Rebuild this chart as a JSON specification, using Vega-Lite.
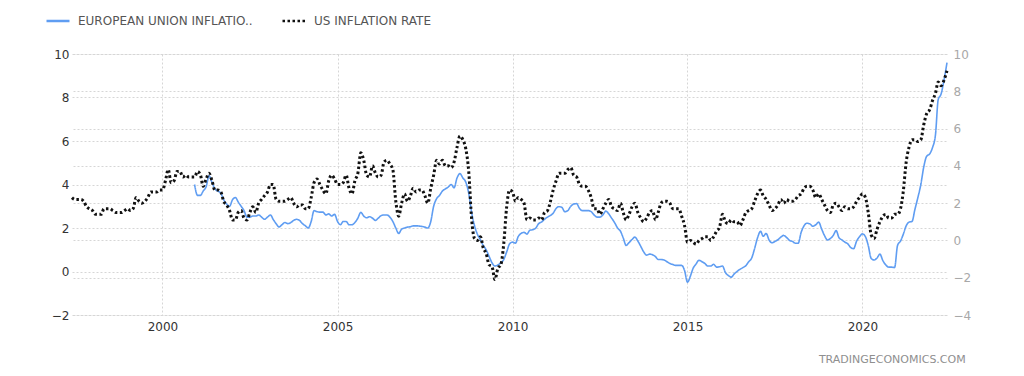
{
"$schema":"https://vega.github.io/schema/vega-lite/v6.json",
"width":875,"height":261,
"autosize":{"type":"none"},
"padding":{"left":72,"top":54,"right":77,"bottom":61},
"background":"white",
"config":{"view":{"stroke":null},"font":"DejaVu Sans"},
"title":{"text":"TRADINGECONOMICS.COM","orient":"bottom","anchor":"end","fontSize":11,"fontWeight":"normal","color":"#8f8f8f","offset":22,"dx":-5,"font":"DejaVu Sans"},
"data":{"values":[
{"d":"1997-06","us":2.3},{"d":"1997-07","us":2.2},{"d":"1997-08","us":2.2},{"d":"1997-09","us":2.2},{"d":"1997-10","us":2.1},{"d":"1997-11","us":1.8},{"d":"1997-12","us":1.7},
{"d":"1998-01","us":1.6},{"d":"1998-02","us":1.4},{"d":"1998-03","us":1.4},{"d":"1998-04","us":1.4},{"d":"1998-05","us":1.7},{"d":"1998-06","us":1.7},{"d":"1998-07","us":1.7},{"d":"1998-08","us":1.6},{"d":"1998-09","us":1.5},{"d":"1998-10","us":1.5},{"d":"1998-11","us":1.5},{"d":"1998-12","us":1.6},
{"d":"1999-01","us":1.7},{"d":"1999-02","us":1.6},{"d":"1999-03","us":1.7},{"d":"1999-04","us":2.3},{"d":"1999-05","us":2.1},{"d":"1999-06","us":2.0},{"d":"1999-07","us":2.1},{"d":"1999-08","us":2.3},{"d":"1999-09","us":2.6},{"d":"1999-10","us":2.6},{"d":"1999-11","us":2.6},{"d":"1999-12","us":2.7},
{"d":"2000-01","us":2.7},{"d":"2000-02","us":3.2},{"d":"2000-03","us":3.8},{"d":"2000-04","us":3.1},{"d":"2000-05","us":3.2},{"d":"2000-06","us":3.7},{"d":"2000-07","us":3.7},{"d":"2000-08","us":3.4},{"d":"2000-09","us":3.5},{"d":"2000-10","us":3.4},{"d":"2000-11","us":3.4},{"d":"2000-12","us":3.4,"eu":4.0},
{"d":"2001-01","us":3.7,"eu":3.5},{"d":"2001-02","us":3.5,"eu":3.5},{"d":"2001-03","us":2.9,"eu":3.7},{"d":"2001-04","us":3.3,"eu":3.9},{"d":"2001-05","us":3.6,"eu":4.4},{"d":"2001-06","us":3.2,"eu":4.1},{"d":"2001-07","us":2.7,"eu":3.8},{"d":"2001-08","us":2.7,"eu":3.7},{"d":"2001-09","us":2.6,"eu":3.6},{"d":"2001-10","us":2.1,"eu":3.3},{"d":"2001-11","us":1.9,"eu":3.1},{"d":"2001-12","us":1.6,"eu":3.0},
{"d":"2002-01","us":1.1,"eu":3.3},{"d":"2002-02","us":1.1,"eu":3.4},{"d":"2002-03","us":1.5,"eu":3.2},{"d":"2002-04","us":1.6,"eu":3.0},{"d":"2002-05","us":1.2,"eu":2.8},{"d":"2002-06","us":1.1,"eu":2.5},{"d":"2002-07","us":1.5,"eu":2.5},{"d":"2002-08","us":1.8,"eu":2.55},{"d":"2002-09","us":1.5,"eu":2.55},{"d":"2002-10","us":2.0,"eu":2.6},{"d":"2002-11","us":2.2,"eu":2.5},{"d":"2002-12","us":2.4,"eu":2.4},
{"d":"2003-01","us":2.6,"eu":2.5},{"d":"2003-02","us":3.0,"eu":2.6},{"d":"2003-03","us":3.0,"eu":2.4},{"d":"2003-04","us":2.2,"eu":2.2},{"d":"2003-05","us":2.1,"eu":2.05},{"d":"2003-06","us":2.1,"eu":2.15},{"d":"2003-07","us":2.1,"eu":2.25},{"d":"2003-08","us":2.2,"eu":2.2},{"d":"2003-09","us":2.3,"eu":2.25},{"d":"2003-10","us":2.0,"eu":2.35},{"d":"2003-11","us":1.8,"eu":2.4},{"d":"2003-12","us":1.9,"eu":2.35},
{"d":"2004-01","us":1.9,"eu":2.2},{"d":"2004-02","us":1.7,"eu":2.1},{"d":"2004-03","us":1.7,"eu":2.0},{"d":"2004-04","us":2.3,"eu":2.3},{"d":"2004-05","us":3.1,"eu":2.8},{"d":"2004-06","us":3.3,"eu":2.75},{"d":"2004-07","us":3.0,"eu":2.73},{"d":"2004-08","us":2.7,"eu":2.73},{"d":"2004-09","us":2.5,"eu":2.6},{"d":"2004-10","us":3.2,"eu":2.65},{"d":"2004-11","us":3.5,"eu":2.55},{"d":"2004-12","us":3.3,"eu":2.63},
{"d":"2005-01","us":3.0,"eu":2.3},{"d":"2005-02","us":3.0,"eu":2.15},{"d":"2005-03","us":3.1,"eu":2.3},{"d":"2005-04","us":3.5,"eu":2.3},{"d":"2005-05","us":2.8,"eu":2.15},{"d":"2005-06","us":2.5,"eu":2.15},{"d":"2005-07","us":3.2,"eu":2.25},{"d":"2005-08","us":3.6,"eu":2.45},{"d":"2005-09","us":4.7,"eu":2.72},{"d":"2005-10","us":4.3,"eu":2.55},{"d":"2005-11","us":3.5,"eu":2.47},{"d":"2005-12","us":3.4,"eu":2.52},
{"d":"2006-01","us":4.0,"eu":2.45},{"d":"2006-02","us":3.6,"eu":2.35},{"d":"2006-03","us":3.4,"eu":2.45},{"d":"2006-04","us":3.5,"eu":2.57},{"d":"2006-05","us":4.2,"eu":2.6},{"d":"2006-06","us":4.3,"eu":2.6},{"d":"2006-07","us":4.1,"eu":2.5},{"d":"2006-08","us":3.8,"eu":2.3},{"d":"2006-09","us":2.1,"eu":2.0},{"d":"2006-10","us":1.3,"eu":1.75},{"d":"2006-11","us":2.0,"eu":1.95},{"d":"2006-12","us":2.5,"eu":2.0},
{"d":"2007-01","us":2.1,"eu":2.04},{"d":"2007-02","us":2.4,"eu":2.06},{"d":"2007-03","us":2.8,"eu":2.1},{"d":"2007-04","us":2.6,"eu":2.1},{"d":"2007-05","us":2.7,"eu":2.09},{"d":"2007-06","us":2.7,"eu":2.07},{"d":"2007-07","us":2.4,"eu":2.04},{"d":"2007-08","us":2.0,"eu":2.0},{"d":"2007-09","us":2.8,"eu":2.3},{"d":"2007-10","us":3.5,"eu":3.0},{"d":"2007-11","us":4.3,"eu":3.35},{"d":"2007-12","us":4.1,"eu":3.5},
{"d":"2008-01","us":4.3,"eu":3.7},{"d":"2008-02","us":4.0,"eu":3.8},{"d":"2008-03","us":4.0,"eu":3.88},{"d":"2008-04","us":3.9,"eu":4.0},{"d":"2008-05","us":4.2,"eu":3.85},{"d":"2008-06","us":5.0,"eu":4.3},{"d":"2008-07","us":5.6,"eu":4.5},{"d":"2008-08","us":5.4,"eu":4.3},{"d":"2008-09","us":4.9,"eu":4.1},{"d":"2008-10","us":3.7,"eu":3.6},{"d":"2008-11","us":1.1,"eu":2.7},{"d":"2008-12","us":0.1,"eu":2.1},
{"d":"2009-01","us":0.0,"eu":1.7},{"d":"2009-02","us":0.2,"eu":1.45},{"d":"2009-03","us":-0.4,"eu":1.2},{"d":"2009-04","us":-0.7,"eu":1.0},{"d":"2009-05","us":-1.3,"eu":0.7},{"d":"2009-06","us":-1.4,"eu":0.4},{"d":"2009-07","us":-2.1,"eu":0.25},{"d":"2009-08","us":-1.5,"eu":0.3},{"d":"2009-09","us":-1.3,"eu":0.4},{"d":"2009-10","us":-0.2,"eu":0.55},{"d":"2009-11","us":1.8,"eu":0.9},{"d":"2009-12","us":2.7,"eu":1.27},
{"d":"2010-01","us":2.6,"eu":1.35},{"d":"2010-02","us":2.1,"eu":1.3},{"d":"2010-03","us":2.3,"eu":1.6},{"d":"2010-04","us":2.2,"eu":1.75},{"d":"2010-05","us":2.0,"eu":1.8},{"d":"2010-06","us":1.1,"eu":1.72},{"d":"2010-07","us":1.2,"eu":1.9},{"d":"2010-08","us":1.1,"eu":1.92},{"d":"2010-09","us":1.1,"eu":2.0},{"d":"2010-10","us":1.2,"eu":2.2},{"d":"2010-11","us":1.1,"eu":2.28},{"d":"2010-12","us":1.5,"eu":2.4},
{"d":"2011-01","us":1.6,"eu":2.5},{"d":"2011-02","us":2.1,"eu":2.58},{"d":"2011-03","us":2.7,"eu":2.68},{"d":"2011-04","us":3.2,"eu":2.9},{"d":"2011-05","us":3.6,"eu":2.98},{"d":"2011-06","us":3.6,"eu":2.94},{"d":"2011-07","us":3.6,"eu":2.75},{"d":"2011-08","us":3.8,"eu":2.8},{"d":"2011-09","us":3.9,"eu":3.0},{"d":"2011-10","us":3.5,"eu":3.1},{"d":"2011-11","us":3.4,"eu":3.12},{"d":"2011-12","us":3.0,"eu":2.9},
{"d":"2012-01","us":2.9,"eu":2.8},{"d":"2012-02","us":2.9,"eu":2.8},{"d":"2012-03","us":2.7,"eu":2.8},{"d":"2012-04","us":2.3,"eu":2.75},{"d":"2012-05","us":1.7,"eu":2.6},{"d":"2012-06","us":1.7,"eu":2.5},{"d":"2012-07","us":1.4,"eu":2.5},{"d":"2012-08","us":1.7,"eu":2.6},{"d":"2012-09","us":2.0,"eu":2.78},{"d":"2012-10","us":2.2,"eu":2.65},{"d":"2012-11","us":1.8,"eu":2.45},{"d":"2012-12","us":1.7,"eu":2.25},
{"d":"2013-01","us":1.6,"eu":2.0},{"d":"2013-02","us":2.0,"eu":1.85},{"d":"2013-03","us":1.5,"eu":1.55},{"d":"2013-04","us":1.1,"eu":1.2},{"d":"2013-05","us":1.4,"eu":1.33},{"d":"2013-06","us":1.8,"eu":1.47},{"d":"2013-07","us":2.0,"eu":1.58},{"d":"2013-08","us":1.5,"eu":1.4},{"d":"2013-09","us":1.2,"eu":1.15},{"d":"2013-10","us":1.0,"eu":0.9},{"d":"2013-11","us":1.2,"eu":0.75},{"d":"2013-12","us":1.5,"eu":0.8},
{"d":"2014-01","us":1.6,"eu":0.77},{"d":"2014-02","us":1.1,"eu":0.68},{"d":"2014-03","us":1.5,"eu":0.55},{"d":"2014-04","us":2.0,"eu":0.55},{"d":"2014-05","us":2.1,"eu":0.53},{"d":"2014-06","us":2.1,"eu":0.45},{"d":"2014-07","us":2.0,"eu":0.37},{"d":"2014-08","us":1.7,"eu":0.32},{"d":"2014-09","us":1.7,"eu":0.28},{"d":"2014-10","us":1.7,"eu":0.28},{"d":"2014-11","us":1.3,"eu":0.28},{"d":"2014-12","us":0.8,"eu":0.05},
{"d":"2015-01","us":-0.1,"eu":-0.49},{"d":"2015-02","us":0.0,"eu":-0.2},{"d":"2015-03","us":-0.1,"eu":0.15},{"d":"2015-04","us":-0.2,"eu":0.35},{"d":"2015-05","us":0.0,"eu":0.52},{"d":"2015-06","us":0.1,"eu":0.45},{"d":"2015-07","us":0.2,"eu":0.37},{"d":"2015-08","us":0.2,"eu":0.25},{"d":"2015-09","us":0.0,"eu":0.25},{"d":"2015-10","us":0.2,"eu":0.33},{"d":"2015-11","us":0.5,"eu":0.2},{"d":"2015-12","us":0.7,"eu":0.22},
{"d":"2016-01","us":1.4,"eu":0.25},{"d":"2016-02","us":1.0,"eu":-0.05},{"d":"2016-03","us":0.9,"eu":-0.18},{"d":"2016-04","us":1.1,"eu":-0.26},{"d":"2016-05","us":1.0,"eu":-0.12},{"d":"2016-06","us":1.0,"eu":0.0},{"d":"2016-07","us":0.8,"eu":0.1},{"d":"2016-08","us":1.1,"eu":0.18},{"d":"2016-09","us":1.5,"eu":0.27},{"d":"2016-10","us":1.6,"eu":0.45},{"d":"2016-11","us":1.7,"eu":0.62},{"d":"2016-12","us":2.1,"eu":1.05},
{"d":"2017-01","us":2.5,"eu":1.55},{"d":"2017-02","us":2.7,"eu":1.85},{"d":"2017-03","us":2.4,"eu":1.62},{"d":"2017-04","us":2.2,"eu":1.75},{"d":"2017-05","us":1.9,"eu":1.45},{"d":"2017-06","us":1.6,"eu":1.32},{"d":"2017-07","us":1.7,"eu":1.38},{"d":"2017-08","us":1.9,"eu":1.46},{"d":"2017-09","us":2.2,"eu":1.58},{"d":"2017-10","us":2.0,"eu":1.66},{"d":"2017-11","us":2.2,"eu":1.56},{"d":"2017-12","us":2.1,"eu":1.43},
{"d":"2018-01","us":2.1,"eu":1.38},{"d":"2018-02","us":2.2,"eu":1.3},{"d":"2018-03","us":2.4,"eu":1.3},{"d":"2018-04","us":2.5,"eu":1.8},{"d":"2018-05","us":2.8,"eu":2.1},{"d":"2018-06","us":2.9,"eu":2.22},{"d":"2018-07","us":2.9,"eu":2.19},{"d":"2018-08","us":2.7,"eu":2.08},{"d":"2018-09","us":2.3,"eu":2.15},{"d":"2018-10","us":2.5,"eu":2.27},{"d":"2018-11","us":2.2,"eu":1.95},{"d":"2018-12","us":1.9,"eu":1.65},
{"d":"2019-01","us":1.6,"eu":1.45},{"d":"2019-02","us":1.5,"eu":1.52},{"d":"2019-03","us":1.9,"eu":1.65},{"d":"2019-04","us":2.0,"eu":1.88},{"d":"2019-05","us":1.8,"eu":1.55},{"d":"2019-06","us":1.6,"eu":1.45},{"d":"2019-07","us":1.8,"eu":1.35},{"d":"2019-08","us":1.7,"eu":1.27},{"d":"2019-09","us":1.7,"eu":1.1},{"d":"2019-10","us":1.8,"eu":1.05},{"d":"2019-11","us":2.1,"eu":1.4},{"d":"2019-12","us":2.3,"eu":1.6},
{"d":"2020-01","us":2.5,"eu":1.73},{"d":"2020-02","us":2.3,"eu":1.6},{"d":"2020-03","us":1.5,"eu":1.2},{"d":"2020-04","us":0.3,"eu":0.6},{"d":"2020-05","us":0.1,"eu":0.53},{"d":"2020-06","us":0.6,"eu":0.62},{"d":"2020-07","us":1.0,"eu":0.8},{"d":"2020-08","us":1.3,"eu":0.5},{"d":"2020-09","us":1.4,"eu":0.3},{"d":"2020-10","us":1.2,"eu":0.2},{"d":"2020-11","us":1.2,"eu":0.2},{"d":"2020-12","us":1.4,"eu":0.18},
{"d":"2021-01","us":1.4,"eu":1.2},{"d":"2021-02","us":1.7,"eu":1.4},{"d":"2021-03","us":2.6,"eu":1.7},{"d":"2021-04","us":4.2,"eu":2.1},{"d":"2021-05","us":5.0,"eu":2.27},{"d":"2021-06","us":5.4,"eu":2.3},{"d":"2021-07","us":5.4,"eu":2.85},{"d":"2021-08","us":5.3,"eu":3.4},{"d":"2021-09","us":5.4,"eu":4.0},{"d":"2021-10","us":6.2,"eu":4.8},{"d":"2021-11","us":6.8,"eu":5.3},{"d":"2021-12","us":7.0,"eu":5.4},
{"d":"2022-01","us":7.5,"eu":5.7},{"d":"2022-02","us":7.9,"eu":6.3},{"d":"2022-03","us":8.5,"eu":7.9},{"d":"2022-04","us":8.3,"eu":8.17},{"d":"2022-05","us":8.6,"eu":8.8},{"d":"2022-06","us":9.1,"eu":9.6}
]},
"transform":[{"fold":["eu","us"],"as":["series","value"]}],
"encoding":{
"x":{"field":"d","type":"temporal","title":null,
"scale":{"domain":[{"year":1997,"month":6,"date":1,"utc":true},{"year":2022,"month":6,"date":1,"utc":true}]},
"axis":{"values":[{"year":2000,"month":1,"date":1,"utc":true},{"year":2005,"month":1,"date":1,"utc":true},{"year":2010,"month":1,"date":1,"utc":true},{"year":2015,"month":1,"date":1,"utc":true},{"year":2020,"month":1,"date":1,"utc":true}],
"format":"%Y","formatType":"utc","domain":false,"ticks":false,"labelPadding":6,"labelFontSize":12,"labelColor":"#333333","labelFont":"DejaVu Sans",
"grid":true,"gridDash":[2,2],"gridColor":"#d6d6d6","gridWidth":1}},
"color":{"field":"series","type":"nominal","scale":{"domain":["eu","us"],"range":["#5f9df2","#111111"]},
"legend":{"title":null,"orient":"none","legendX":-27,"legendY":-46,"direction":"horizontal","symbolType":"stroke","symbolSize":529,"symbolStrokeWidth":2.5,"labelFontSize":12,"labelColor":"#555555","labelFont":"DejaVu Sans","labelOffset":7,"columnPadding":24,"labelLimit":400,
"labelExpr":"datum.value == 'eu' ? 'EUROPEAN UNION INFLATIO..' : 'US INFLATION RATE'"}},
"strokeDash":{"field":"series","type":"nominal","scale":{"domain":["eu","us"],"range":[[1,0],[2.5,2.5]]},
"legend":{"title":null,"orient":"none","legendX":-27,"legendY":-46,"direction":"horizontal","symbolType":"stroke","symbolSize":529,"symbolStrokeWidth":2.5,"labelFontSize":12,"labelColor":"#555555","labelFont":"DejaVu Sans","labelOffset":7,"columnPadding":24,"labelLimit":400,
"labelExpr":"datum.value == 'eu' ? 'EUROPEAN UNION INFLATIO..' : 'US INFLATION RATE'"}}
},
"layer":[
{"transform":[{"filter":"datum.series == 'eu'"}],
"mark":{"type":"line","interpolate":"monotone","strokeWidth":1.6},
"encoding":{"y":{"field":"value","type":"quantitative","title":null,
"scale":{"domain":[-2,10],"nice":false,"zero":false},
"axis":{"orient":"left","values":[-2,0,2,4,6,8,10],"domain":false,"ticks":false,"labelPadding":3,"labelFontSize":12,"labelColor":"#333333","labelFont":"DejaVu Sans",
"grid":true,"gridDash":[2,2],"gridColor":"#d6d6d6"}}}},
{"transform":[{"filter":"datum.series == 'us'"}],
"mark":{"type":"line","interpolate":"monotone","strokeWidth":3},
"encoding":{"y":{"field":"value","type":"quantitative","title":null,
"scale":{"domain":[-4,10],"nice":false,"zero":false},
"axis":{"orient":"right","values":[-4,-2,0,2,4,6,8,10],"domain":false,"ticks":false,"labelPadding":6,"labelFontSize":12,"labelColor":"#a8a8a8","labelFont":"DejaVu Sans",
"grid":true,"gridDash":[2,2],"gridColor":"#d6d6d6"}}}}
],
"resolve":{"scale":{"y":"independent"}}
}
